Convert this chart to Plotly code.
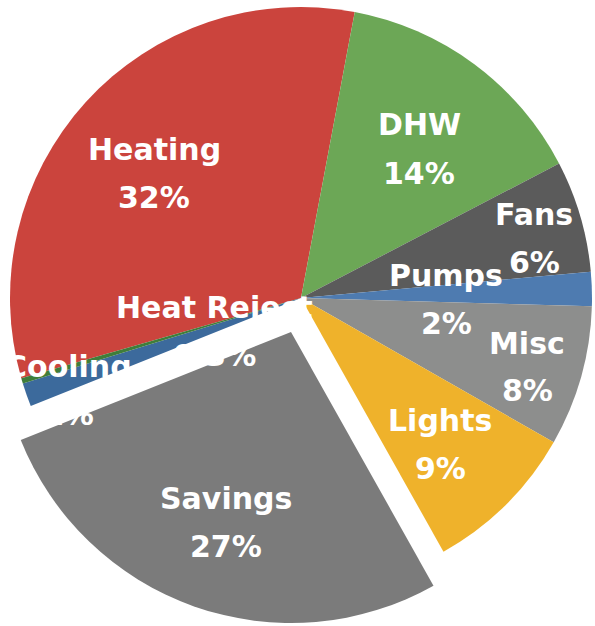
import plotly.graph_objects as go

# ---- data ----
categories = ["Heating", "DHW", "Fans", "Pumps", "Misc", "Lights", "Savings", "Cooling", "Heat Reject"]
shares = [32.4, 14.4, 6.2, 1.9, 7.8, 8.6, 27.1, 1.3, 0.3]
colors = ["#CB443D", "#6CA756", "#5B5B5B", "#4E7BB0", "#8D8E8D", "#EFB22B", "#7B7B7B", "#3C6A9C", "#3F7D3A"]
exploded = "Savings"

# ---- layout constants (pixels) ----
W, H = 595, 626
R = 291
base_center = (301, 298)
pulled_center = (291, 332)
rotation = -106

# label block centres (pixels) and line offset
label_xy = {
    "Heating": (154, 173), "DHW": (419, 149), "Fans": (534, 238), "Pumps": (446, 300),
    "Misc": (527, 367), "Lights": (440, 444), "Savings": (226, 522),
    "Cooling": (68, 390), "Heat Reject": (214, 331),
}
line_gap = 24
font = dict(family="'DejaVu Sans', sans-serif", size=30, color="white", weight="bold")


def pct_text(v):
    total = sum(shares)
    p = v / total * 100
    return f"{p:.1f}%" if p < 1 else f"{p:.0f}%"


def dom(center):
    cx, cy = center
    return dict(x=[(cx - R) / W, (cx + R) / W], y=[1 - (cy + R) / H, 1 - (cy - R) / H])


transparent = "rgba(0,0,0,0)"
colors_a = [transparent if c == exploded else col for c, col in zip(categories, colors)]
colors_b = [col if c == exploded else transparent for c, col in zip(categories, colors)]

common = dict(labels=categories, values=shares, sort=False, direction="clockwise",
              rotation=rotation, textinfo="none", hoverinfo="label+percent",
              showlegend=False)

fig = go.Figure()
fig.add_trace(go.Pie(**common, marker=dict(colors=colors_a, line=dict(width=0)),
                     domain=dom(base_center)))
fig.add_trace(go.Pie(**common, marker=dict(colors=colors_b, line=dict(width=0)),
                     domain=dom(pulled_center)))

for cat, v in zip(categories, shares):
    px, py = label_xy[cat]
    for txt, dy in ((cat, -line_gap), (pct_text(v), line_gap)):
        fig.add_annotation(x=px / W, y=1 - (py + dy) / H, xref="paper", yref="paper",
                           text=txt, showarrow=False, font=font,
                           xanchor="center", yanchor="middle")

fig.update_layout(width=W, height=H, margin=dict(l=0, r=0, t=0, b=0),
                  paper_bgcolor="white", plot_bgcolor="white")

fig.write_html("out.html", config={"displayModeBar": False},
               post_script="document.body.style.margin = '0px';")
